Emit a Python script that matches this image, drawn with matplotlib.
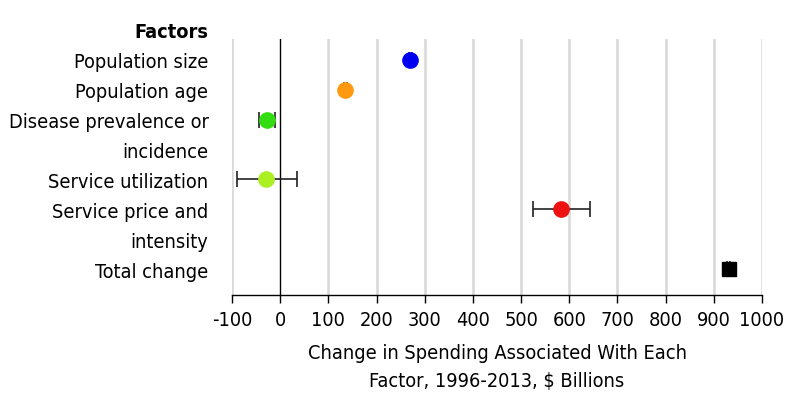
import matplotlib.pyplot as plt

plt.rcParams['font.family'] = ['DejaVu Sans']
plt.rcParams['font.stretch'] = 'condensed'

# data
factors = ["Population size", "Population age", "Disease prevalence or\nincidence",
           "Service utilization", "Service price and\nintensity", "Total change"]
change = [270, 135, -28, -29, 583, 931]
lower = [267, 132, -44, -90, 525, 928]
upper = [273, 138, -10, 35, 642, 934]
colors = ["#0000f0", "#ff9a10", "#33dd11", "#aaf022", "#ee1111", "#000000"]
markers = ["o", "o", "o", "o", "o", "s"]
xticks = list(range(-100, 1001, 100))

fig = plt.figure(figsize=(7.94, 4.06), dpi=100)
ax = fig.add_axes([0.2922, 0.2709, 0.6675, 0.6306])

# each factor takes one row per line of its label
rows = []
ylabels = []
r = 0
for f in factors:
    rows.append(r)
    for line in f.split("\n"):
        ylabels.append(line)
        r += 1

for i in range(len(factors)):
    ax.errorbar(change[i], rows[i],
                xerr=[[change[i] - lower[i]], [upper[i] - change[i]]],
                fmt=markers[i], color=colors[i], ecolor="#222222",
                elinewidth=1.2, capsize=5.5, capthick=1.2,
                markersize=11 if markers[i] == "o" else 10, zorder=3)

ax.set_xlim(-100, 1000)
ax.set_ylim(7.87, -0.70)
ax.set_xticks(xticks)
ax.set_xticklabels([str(t) for t in xticks], fontsize=14.3)
ax.set_yticks(range(len(ylabels)))
ax.set_yticklabels(ylabels, fontsize=14.3)
ax.tick_params(axis="y", length=0, pad=17)
ax.tick_params(axis="x", length=6, width=1, direction="out", pad=4.5)

for t in xticks:
    if t == 0:
        ax.axvline(0, color="black", lw=1, zorder=2)
    else:
        ax.axvline(t, color="#d8d8d8", lw=1.8, zorder=1)

for s in ["top", "right", "left"]:
    ax.spines[s].set_visible(False)
ax.spines["bottom"].set_linewidth(1)

ax.set_xlabel("Change in Spending Associated With Each\nFactor, 1996-2013, $ Billions",
              fontsize=14.3, labelpad=10.5, linespacing=1.6)
fig.text(208 / 794, 1 - 32 / 406, "Factors", ha="right", va="center",
         fontsize=14.3, fontweight="bold")

fig.savefig("out.png", dpi=100)
